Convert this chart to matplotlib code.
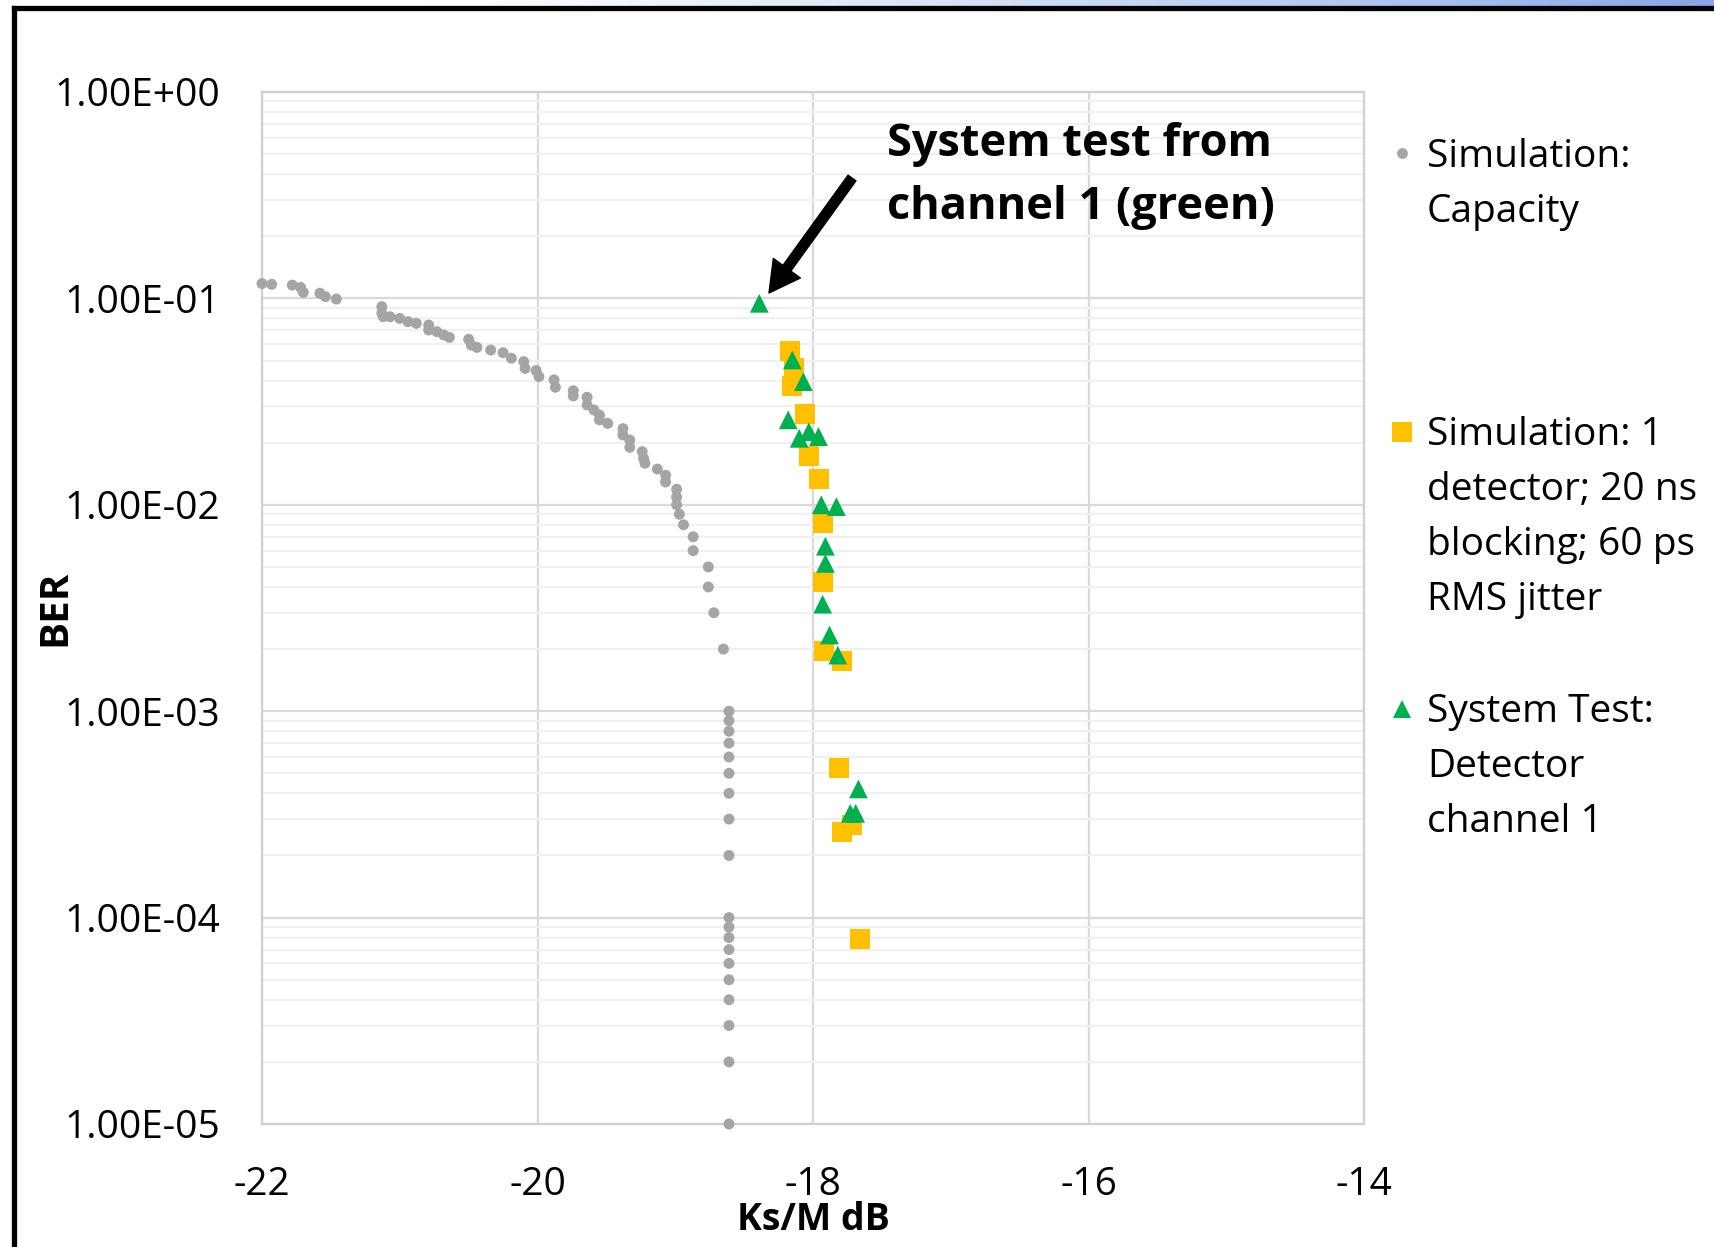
import matplotlib
matplotlib.use('Agg')
import matplotlib.pyplot as plt
import numpy as np
from matplotlib.lines import Line2D
from matplotlib.ticker import FixedLocator, FuncFormatter, NullFormatter
from matplotlib.colors import LinearSegmentedColormap

plt.rcParams['font.family'] = ['Open Sans', 'DejaVu Sans']

# ---------------- data ----------------
cap_x = [-22.00, -21.93, -21.78, -21.72, -21.70, -21.58, -21.54, -21.46,
         -21.13, -21.13, -21.12, -21.07, -21.00, -20.94, -20.88, -20.79, -20.79,
         -20.73, -20.68, -20.64, -20.50, -20.48, -20.44, -20.34, -20.25, -20.19,
         -20.10, -20.09, -20.01, -19.99, -19.88, -19.87, -19.74, -19.74, -19.64,
         -19.64, -19.59, -19.55, -19.55, -19.49, -19.38, -19.38, -19.33, -19.33,
         -19.24, -19.23, -19.22, -19.13, -19.07, -19.07, -18.99, -18.99, -18.99,
         -18.97, -18.94, -18.87, -18.87, -18.76, -18.76, -18.72, -18.65,
         -18.61, -18.61, -18.61, -18.61, -18.61, -18.61, -18.61, -18.61, -18.61,
         -18.61, -18.61, -18.61, -18.61, -18.61, -18.61, -18.61, -18.61, -18.61,
         -18.61]
cap_y = [0.118, 0.117, 0.116, 0.113, 0.107, 0.106, 0.102, 0.0993,
         0.0912, 0.0847, 0.0815, 0.0815, 0.0800, 0.0771, 0.0757, 0.0743, 0.0703,
         0.0690, 0.0665, 0.0647, 0.0634, 0.0594, 0.0579, 0.0562, 0.0546, 0.0513,
         0.0494, 0.0458, 0.0447, 0.0418, 0.0403, 0.0371, 0.0357, 0.0337, 0.0332,
         0.0305, 0.0288, 0.0272, 0.0258, 0.0248, 0.0234, 0.0218, 0.0206, 0.0190,
         0.0181, 0.0168, 0.0159, 0.0149, 0.0139, 0.0129, 0.0119, 0.0109, 0.0100,
         0.0090, 0.0080, 0.0070, 0.0060, 0.0050, 0.0040, 0.0030, 0.0020,
         1e-3, 9e-4, 8e-4, 7e-4, 6e-4, 5e-4, 4e-4, 3e-4, 2e-4,
         1e-4, 9e-5, 8e-5, 7e-5, 6e-5, 5e-5, 4e-5, 3e-5, 2e-5,
         1e-5]

sim_x = [-18.17, -18.14, -18.15, -18.06, -18.03, -17.96, -17.93, -17.93,
         -17.92, -17.79, -17.81, -17.72, -17.79, -17.66]
sim_y = [0.0556, 0.0458, 0.0378, 0.0275, 0.0172, 0.0133, 0.0082, 0.00424,
         0.00196, 0.00176, 5.3e-4, 2.8e-4, 2.6e-4, 7.9e-5]

test_x = [-18.39, -18.15, -18.07, -18.18, -18.10, -18.03, -17.96, -17.94,
          -17.83, -17.91, -17.91, -17.93, -17.88, -17.82, -17.67, -17.73, -17.69]
test_y = [0.0947, 0.0503, 0.0395, 0.0258, 0.0210, 0.0226, 0.0214, 0.0100,
          0.0098, 0.0063, 0.0052, 0.0033, 0.00234, 0.00187, 4.2e-4, 3.2e-4, 3.2e-4]

x_ticks = [-22, -20, -18, -16, -14]
y_ticks = [1e-5, 1e-4, 1e-3, 1e-2, 1e-1, 1e0]

legend_labels = [["Simulation:", "Capacity"],
                 ["Simulation: 1", "detector; 20 ns", "blocking; 60 ps", "RMS jitter"],
                 ["System Test:", "Detector", "channel 1"]]
annotation_lines = ["System test from", "channel 1 (green)"]

GRAY, YELLOW, GREEN = '#a5a5a5', '#ffc000', '#00b050'

# ---------------- figure ----------------
W, H = 1715, 1247
fig = plt.figure(figsize=(W / 100, H / 100), dpi=100)
fig.patch.set_facecolor('white')


def fx(px):
    return px / W


def fy(py):
    return 1 - py / H


# slide background strip at very top (blue gradient towards the right)
strip = fig.add_axes([0, fy(6), 1, 6 / H])
strip.axis('off')
grad = np.linspace(0, 1, 400).reshape(1, -1)
cmap = LinearSegmentedColormap.from_list('bg', ['#ffffff', '#ffffff', '#dfe8f8', '#b9cdf2', '#8aa6e8'])
strip.imshow(grad, aspect='auto', cmap=cmap, extent=[0, 1, 0, 1])

L, R, T, B = 262, 1364, 92, 1124
ax = fig.add_axes([L / W, (H - B) / H, (R - L) / W, (B - T) / H])
ax.set_yscale('log')
ax.set_xlim(-22, -14)
ax.set_ylim(1e-5, 1)

ax.xaxis.set_major_locator(FixedLocator(x_ticks))
ax.yaxis.set_major_locator(FixedLocator(y_ticks))
minor = [m * 10.0 ** e for e in range(-5, 0) for m in range(2, 10)]
ax.yaxis.set_minor_locator(FixedLocator(minor))
ax.yaxis.set_minor_formatter(NullFormatter())
ax.yaxis.set_major_formatter(FuncFormatter(lambda v, p: f"{v:.2E}"))
ax.xaxis.set_major_formatter(FuncFormatter(lambda v, p: f"{int(round(v))}"))

ax.set_axisbelow(True)
ax.grid(which='major', axis='both', color='#d9d9d9', lw=1.6)
ax.grid(which='minor', axis='y', color='#f0f0f0', lw=1.6)
for s in ax.spines.values():
    s.set_color('#d0d0d0')
    s.set_linewidth(1.6)

ax.tick_params(which='both', length=0)
ax.tick_params(axis='y', labelsize=28, pad=30, labelcolor='black')
ax.tick_params(axis='x', labelsize=28, pad=30, labelcolor='black')

ax.scatter(cap_x, cap_y, s=62, color=GRAY, edgecolors='none', zorder=3, clip_on=False)
ax.scatter(sim_x, sim_y, s=207, marker='s', color=YELLOW, edgecolors='none', zorder=4)
ax.scatter(test_x, test_y, s=182, marker='^', color=GREEN, edgecolors='none', zorder=5)

ax.set_xlabel("Ks/M dB", fontsize=27, fontweight='bold')
ax.xaxis.label.set_va('baseline')
ax.xaxis.set_label_coords(0.5, -(1230 - B) / (B - T))
ax.set_ylabel("BER", fontsize=29, fontweight='bold')
ax.yaxis.label.set_va('baseline')
ax.yaxis.set_label_coords(-(262 - 65) / (R - L), 0.5)

# ---------------- legend (manual, Excel-like) ----------------
leg_markers = [('o', GRAY, 7.8), ('s', YELLOW, 14.4), ('^', GREEN, 13.5)]
leg_base = [167, 445, 722]
leg_mark_y = [153, 432, 709]
for (mk, col, ms), lines, b0, my in zip(leg_markers, legend_labels, leg_base, leg_mark_y):
    fig.add_artist(Line2D([fx(1402)], [fy(my)], marker=mk, color=col, markersize=ms,
                          markeredgewidth=0, linestyle='none', transform=fig.transFigure))
    for i, t in enumerate(lines):
        fig.text(fx(1427), fy(b0 + 55 * i), t, fontsize=28, va='baseline', ha='left')

# ---------------- annotation ----------------
for i, t in enumerate(annotation_lines):
    fig.text(fx(887), fy(156 + 63 * i), t, fontsize=32.5, fontweight='bold',
             va='baseline', ha='left')
ax.annotate('', xy=(769, H - 293), xycoords='figure pixels',
            xytext=(852, H - 178), textcoords='figure pixels',
            arrowprops=dict(width=7, headwidth=24, headlength=22,
                            facecolor='black', edgecolor='black', shrink=0))

# ---------------- slide frame ----------------
fig.add_artist(Line2D([fx(14), fx(14)], [0, fy(8)], color='black', lw=3.8,
                      transform=fig.transFigure, solid_capstyle='projecting'))
fig.add_artist(Line2D([fx(14), 1.0], [fy(8), fy(8)], color='black', lw=3.8,
                      transform=fig.transFigure, solid_capstyle='projecting'))

fig.savefig('out.png', dpi=100)
